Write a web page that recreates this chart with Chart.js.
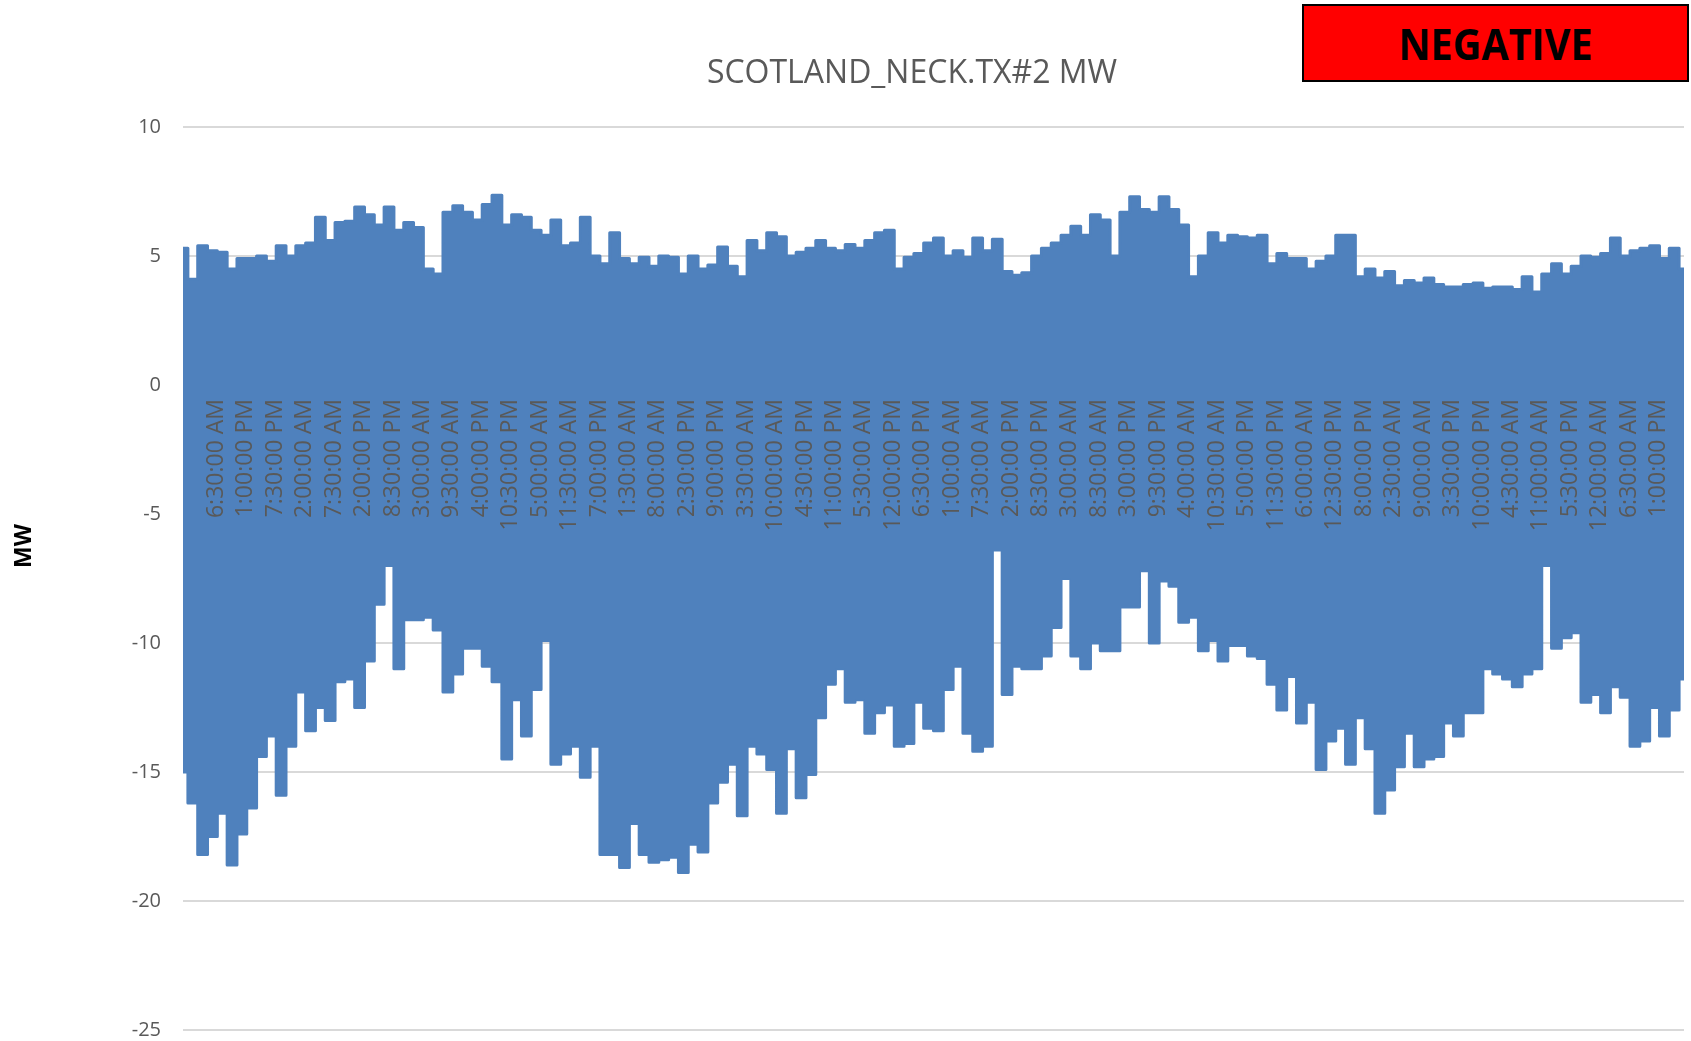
<!DOCTYPE html>
<html>
<head>
<meta charset="utf-8">
<title>SCOTLAND_NECK.TX#2 MW</title>
<script src="https://cdn.jsdelivr.net/npm/chart.js@4.4.1/dist/chart.umd.min.js"></script>
<style>
  body { margin: 0; background: #fff; }
  #wrap { position: relative; width: 1691px; height: 1041px; }
  #badge {
    position: absolute; left: 1302px; top: 4px; width: 383px; height: 74px;
    background: #ff0000; border: 2px solid #000;
    font: bold 43px "Open Sans", sans-serif; color: #000;
    display: flex; align-items: center; justify-content: center;
  }
  #badge span { display: inline-block; transform: scaleX(0.92); }
</style>
</head>
<body>
<div id="wrap">
  <canvas id="chart" width="1691" height="1041"></canvas>
  <div id="badge"><span>NEGATIVE</span></div>
</div>
<script>
// category labels shown along the 0 line
const tickLabels = [
  '6:30:00 AM', '1:00:00 PM', '7:30:00 PM', '2:00:00 AM', '7:30:00 AM', '2:00:00 PM',
  '8:30:00 PM', '3:00:00 AM', '9:30:00 AM', '4:00:00 PM', '10:30:00 PM', '5:00:00 AM',
  '11:30:00 AM', '7:00:00 PM', '1:30:00 AM', '8:00:00 AM', '2:30:00 PM', '9:00:00 PM',
  '3:30:00 AM', '10:00:00 AM', '4:30:00 PM', '11:00:00 PM', '5:30:00 AM', '12:00:00 PM',
  '6:30:00 PM', '1:00:00 AM', '7:30:00 AM', '2:00:00 PM', '8:30:00 PM', '3:00:00 AM',
  '8:30:00 AM', '3:00:00 PM', '9:30:00 PM', '4:00:00 AM', '10:30:00 AM', '5:00:00 PM',
  '11:30:00 PM', '6:00:00 AM', '12:30:00 PM', '8:00:00 PM', '2:30:00 AM', '9:00:00 AM',
  '3:30:00 PM', '10:00:00 PM', '4:30:00 AM', '11:00:00 AM', '5:30:00 PM', '12:00:00 AM',
  '6:30:00 AM', '1:00:00 PM'
];

// three readings per label interval
const STEP = 1 / 3;

// upper envelope of the MW trace
const topMW = [
  5.3, 4.1, 5.4, 5.2, 5.15, 4.5, 4.9, 4.9, 5.0, 4.8,
  5.4, 5.0, 5.4, 5.5, 6.5, 5.6, 6.3, 6.35, 6.9, 6.6,
  6.2, 6.9, 6.0, 6.3, 6.1, 4.5, 4.3, 6.7, 6.95, 6.7,
  6.4, 7.0, 7.35, 6.2, 6.6, 6.5, 6.0, 5.8, 6.4, 5.4,
  5.5, 6.5, 5.0, 4.7, 5.9, 4.9, 4.7, 4.95, 4.6, 5.0,
  4.95, 4.3, 5.0, 4.5, 4.65, 5.35, 4.6, 4.2, 5.6, 5.2,
  5.9, 5.75, 5.0, 5.15, 5.3, 5.6, 5.3, 5.2, 5.45, 5.3,
  5.6, 5.9, 6.0, 4.5, 4.95, 5.1, 5.5, 5.7, 5.0, 5.2,
  4.95, 5.7, 5.2, 5.65, 4.4, 4.25, 4.35, 5.0, 5.3, 5.5,
  5.8, 6.15, 5.8, 6.6, 6.4, 5.0, 6.7, 7.3, 6.8, 6.7,
  7.3, 6.8, 6.2, 4.2, 5.0, 5.9, 5.5, 5.8, 5.75, 5.7,
  5.8, 4.7, 5.1, 4.9, 4.9, 4.5, 4.8, 5.0, 5.8, 5.8,
  4.2, 4.5, 4.15, 4.4, 3.85, 4.05, 3.95, 4.15, 3.9, 3.8,
  3.8, 3.9, 3.95, 3.75, 3.8, 3.8, 3.7, 4.2, 3.6, 4.3,
  4.7, 4.3, 4.6, 5.0, 4.95, 5.1, 5.7, 5.0, 5.2, 5.3,
  5.4, 4.9, 5.3, 4.5
];

// lower envelope of the MW trace
const bottomMW = [
  -15.0, -16.2, -18.2, -17.5, -16.6, -18.6, -17.4, -16.4, -14.4, -13.6,
  -15.9, -14.0, -11.9, -13.4, -12.5, -13.0, -11.5, -11.4, -12.5, -10.7,
  -8.5, -7.0, -11.0, -9.1, -9.1, -9.0, -9.5, -11.9, -11.2, -10.2,
  -10.2, -10.9, -11.5, -14.5, -12.2, -13.6, -11.8, -9.9, -14.7, -14.3,
  -14.0, -15.2, -14.0, -18.2, -18.2, -18.7, -17.0, -18.2, -18.5, -18.4,
  -18.3, -18.9, -17.8, -18.1, -16.2, -15.4, -14.7, -16.7, -14.0, -14.3,
  -14.9, -16.6, -14.1, -16.0, -15.1, -12.9, -11.6, -11.0, -12.3, -12.2,
  -13.5, -12.7, -12.4, -14.0, -13.9, -12.3, -13.3, -13.4, -11.8, -10.9,
  -13.5, -14.2, -14.0, -6.4, -12.0, -10.9, -11.0, -11.0, -10.5, -9.4,
  -7.5, -10.5, -11.0, -10.0, -10.3, -10.3, -8.6, -8.6, -7.2, -10.0,
  -7.6, -7.8, -9.2, -9.0, -10.3, -9.9, -10.7, -10.1, -10.1, -10.5,
  -10.6, -11.6, -12.6, -11.3, -13.1, -12.3, -14.9, -13.8, -13.3, -14.7,
  -12.9, -14.1, -16.6, -15.7, -14.8, -13.5, -14.8, -14.5, -14.4, -13.1,
  -13.6, -12.7, -12.7, -11.0, -11.2, -11.4, -11.7, -11.2, -11.0, -7.0,
  -10.2, -9.8, -9.6, -12.3, -12.0, -12.7, -11.7, -12.1, -14.0, -13.8,
  -12.5, -13.6, -12.6, -11.4
];

const textGrey = '#595959';
const lineBlue = '#4F81BD';

function toPoints(values) {
  return values.map((v, i) => ({ x: i * STEP, y: v }));
}

// title and axis name, placed like the original
const overlayText = {
  id: 'overlayText',
  afterDraw(chart) {
    const ctx = chart.ctx;
    ctx.save();
    ctx.textAlign = 'center';
    ctx.textBaseline = 'middle';
    ctx.fillStyle = textGrey;
    ctx.font = '32px "Open Sans"';
    ctx.fillText('SCOTLAND_NECK.TX#2 MW', 912, 74);
    ctx.translate(24, 546);
    ctx.rotate(-Math.PI / 2);
    ctx.fillStyle = '#000';
    ctx.font = 'bold 23px "Open Sans"';
    ctx.fillText('MW', 0, 0);
    ctx.restore();
  }
};

const lineStyle = {
  borderColor: lineBlue,
  backgroundColor: lineBlue,
  borderWidth: 3,
  stepped: 'middle',
  pointRadius: 0,
  borderJoinStyle: 'round',
  borderCapStyle: 'round'
};

new Chart(document.getElementById('chart'), {
  type: 'line',
  data: {
    datasets: [
      Object.assign({ label: 'MW high', data: toPoints(topMW), fill: '+1' }, lineStyle),
      Object.assign({ label: 'MW low', data: toPoints(bottomMW), fill: false }, lineStyle)
    ]
  },
  options: {
    responsive: false,
    animation: false,
    layout: { padding: { left: 0, right: 7, top: 127, bottom: 11 } },
    plugins: {
      legend: { display: false },
      tooltip: { enabled: false },
      title: { display: false }
    },
    scales: {
      x: {
        type: 'linear',
        min: 0,
        max: tickLabels.length + 1,
        position: { y: 0 },
        grid: { display: false },
        border: { display: false },
        afterBuildTicks: scale => {
          scale.ticks = tickLabels.map((t, i) => ({ value: i + 1 }));
        },
        ticks: {
          z: 1,
          autoSkip: false,
          minRotation: 90,
          maxRotation: 90,
          padding: 6,
          labelOffset: 4,
          color: textGrey,
          font: { family: 'Open Sans', size: 23 },
          callback: value => tickLabels[value - 1]
        }
      },
      y: {
        min: -25,
        max: 10,
        afterFit: scale => {
          scale.width = 183;
          // keep the label gap from eating into the plot height
          scale.paddingTop = 11;
          scale.paddingBottom = 11;
        },
        grid: { color: '#d9d9d9', lineWidth: 2, drawTicks: false },
        border: { display: false },
        ticks: {
          stepSize: 5,
          padding: 22,
          color: textGrey,
          font: { family: 'Open Sans', size: 20, lineHeight: 1 }
        }
      }
    }
  },
  plugins: [overlayText]
});
</script>
</body>
</html>
